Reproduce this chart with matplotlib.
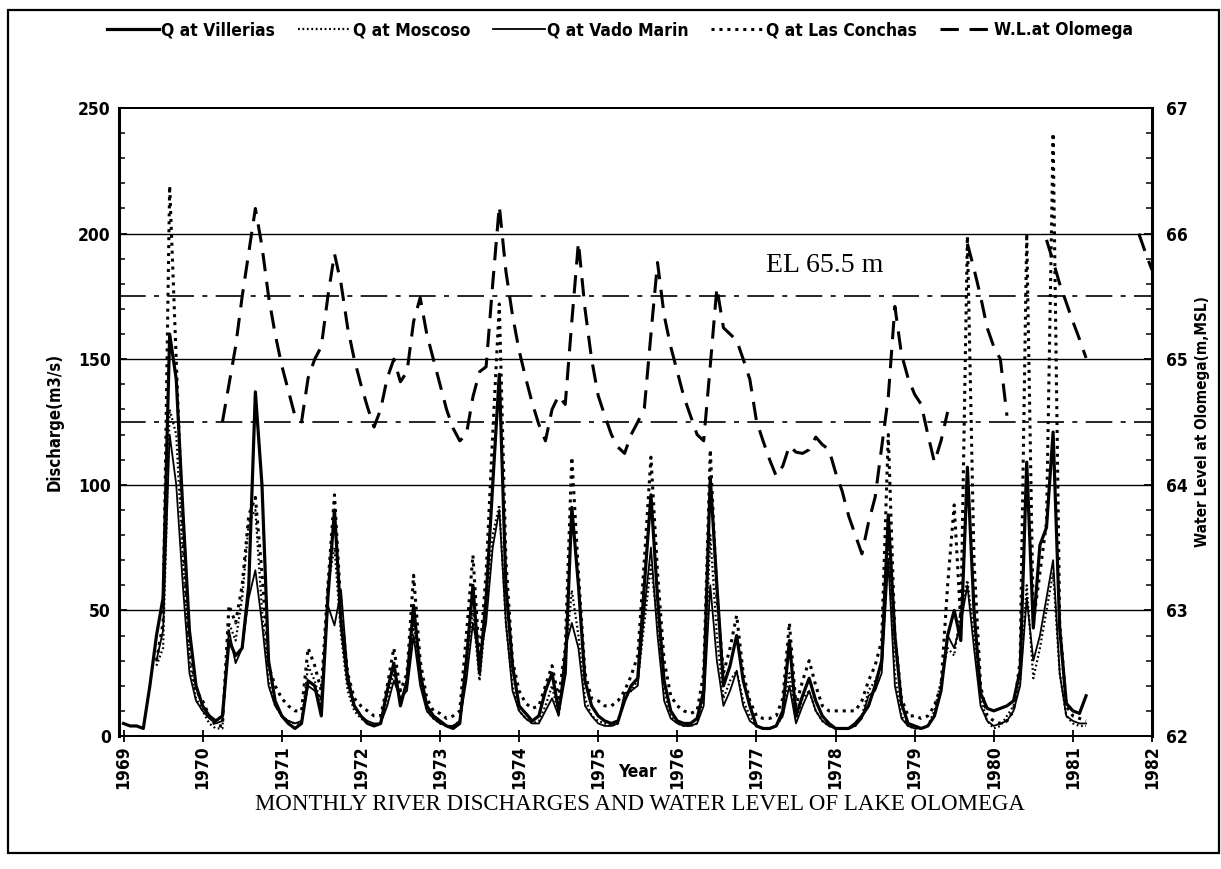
import numpy as np
import matplotlib
matplotlib.use("Agg")
import matplotlib.pyplot as plt
from matplotlib import font_manager as fm
from matplotlib.patches import Rectangle
from matplotlib.ticker import MultipleLocator

nan = np.nan

# ---------------- data (monthly, from Jan 1969) ----------------
start_year = 1969
villerias = [
    5, 4, 4, 3, 20, 40, 55, 160, 142, 90, 42, 20,          # 1969
    12, 8, 6, 8, 38, 32, 35, 60, 137, 100, 30, 14,         # 1970
    8, 5, 3, 5, 22, 20, 8, 55, 90, 45, 22, 12,             # 1971
    8, 5, 4, 5, 18, 29, 12, 22, 52, 25, 12, 8,             # 1972
    6, 4, 3, 5, 30, 60, 25, 55, 100, 144, 60, 28,          # 1973
    12, 9, 6, 8, 18, 25, 10, 25, 91, 60, 22, 12,           # 1974
    8, 6, 5, 6, 14, 20, 23, 60, 96, 55, 22, 10,            # 1975
    6, 5, 5, 7, 18, 103, 60, 20, 28, 40, 22, 12,           # 1976
    4, 3, 3, 4, 10, 38, 8, 16, 23, 14, 8, 5,               # 1977
    3, 3, 3, 5, 8, 12, 20, 30, 88, 40, 13, 5,              # 1978
    4, 3, 4, 8, 18, 40, 50, 38, 107, 50, 17, 11,           # 1979
    10, 11, 12, 14, 26, 109, 43, 76, 83, 121, 43, 13,      # 1980
    10, 9, 16,                                             # 1981
]
moscoso = [
    nan, nan, nan, nan, nan, 28, 35, 130, 120, 70, 30, 15,
    10, 5, 3, 3, 45, 38, 55, 85, 90, 50, 22, 12,
    8, 6, 5, 5, 28, 22, 12, 60, 75, 40, 18, 10,
    7, 5, 4, 5, 15, 25, 14, 20, 45, 22, 10, 7,
    5, 4, 4, 6, 25, 50, 22, 50, 80, 92, 45, 20,
    10, 7, 5, 6, 12, 20, 8, 30, 58, 40, 15, 8,
    6, 5, 4, 5, 15, 18, 22, 45, 68, 45, 18, 8,
    5, 4, 4, 5, 15, 80, 40, 15, 22, 26, 14, 8,
    4, 3, 3, 4, 8, 25, 6, 15, 18, 10, 6, 4,
    3, 3, 3, 4, 8, 18, 22, 28, 75, 25, 8, 4,
    3, 3, 4, 10, 22, 35, 32, 50, 62, 40, 15, 6,
    3, 4, 8, 12, 22, 60, 23, 35, 50, 65, 25, 8,
    5, 4, 4,
]
vado_marin = [
    nan, nan, nan, nan, nan, 30, 42, 120, 100, 60, 25, 14,
    10, 7, 5, 6, 42, 29, 35, 55, 66, 45, 20, 12,
    8, 6, 5, 6, 20, 18, 15, 52, 44, 58, 25, 12,
    8, 6, 5, 5, 12, 22, 15, 18, 40, 20, 10, 7,
    5, 4, 4, 6, 22, 45, 30, 45, 75, 90, 45, 18,
    10, 7, 5, 5, 10, 15, 8, 35, 45, 35, 12, 8,
    5, 4, 4, 5, 17, 18, 20, 50, 75, 40, 14, 7,
    5, 4, 4, 5, 12, 60, 30, 12, 18, 26, 12, 6,
    4, 3, 3, 4, 8, 20, 5, 12, 18, 10, 6, 4,
    3, 3, 3, 4, 7, 16, 18, 25, 70, 20, 7, 4,
    3, 3, 4, 8, 18, 40, 35, 45, 60, 35, 12, 6,
    4, 5, 6, 10, 20, 55, 30, 40, 55, 70, 25, 8,
    6, 5, 5,
]
las_conchas = [
    nan, nan, nan, nan, nan, 30, 45, 219, 150, 80, 35, 18,
    14, 8, 4, 4, 52, 45, 60, 88, 95, 65, 28, 20,
    15, 12, 10, 10, 35, 28, 18, 60, 96, 50, 25, 15,
    12, 10, 8, 8, 20, 35, 18, 25, 64, 30, 15, 10,
    9, 7, 8, 10, 40, 72, 30, 65, 120, 172, 70, 30,
    18, 13, 11, 12, 20, 28, 15, 35, 111, 65, 25, 15,
    14, 12, 12, 14, 18, 24, 32, 70, 111, 65, 30, 16,
    12, 10, 9, 10, 25, 114, 55, 25, 35, 48, 25, 14,
    8, 7, 7, 8, 15, 45, 12, 22, 30, 20, 12, 10,
    10, 10, 10, 10, 14, 22, 28, 38, 120, 40, 15, 8,
    8, 7, 8, 12, 20, 60, 92, 45, 199, 70, 20, 8,
    6, 5, 6, 10, 30, 200, 45, 65, 85, 240, 45, 12,
    8, 7, 6,
]
water_level = [
    nan, nan, nan, nan, nan, nan, nan, nan, nan, nan, nan, nan,                    # 1969
    nan, nan, nan, 64.50, 64.80, 65.10, 65.50, 65.85, 66.20, 65.90, 65.50, 65.20,   # 1970
    64.95, 64.75, 64.55, 64.50, 64.85, 65.00, 65.10, 65.50, 65.84, 65.60, 65.25, 65.00,
    64.80, 64.62, 64.46, 64.60, 64.85, 65.00, 64.82, 64.90, 65.30, 65.49, 65.20, 65.00,
    64.80, 64.60, 64.45, 64.35, 64.40, 64.70, 64.90, 64.94, 65.60, 66.22, 65.70, 65.35,
    65.07, 64.85, 64.65, 64.48, 64.35, 64.60, 64.71, 64.64, 65.30, 65.93, 65.40, 65.00,
    64.71, 64.55, 64.40, 64.30, 64.25, 64.40, 64.50, 64.61, 65.20, 65.77, 65.35, 65.10,
    64.90, 64.70, 64.55, 64.40, 64.35, 64.95, 65.57, 65.25, 65.20, 65.15, 65.00, 64.84,
    64.51, 64.35, 64.20, 64.07, 64.15, 64.31, 64.26, 64.25, 64.28, 64.38, 64.32, 64.28,
    64.10, 63.95, 63.75, 63.60, 63.45, 63.70, 63.90, 64.30, 64.70, 65.42, 65.04, 64.85,
    64.72, 64.64, 64.40, 64.18, 64.35, 64.58, nan, nan, 65.92, 65.72, 65.50, 65.25,
    65.10, 65.00, 64.55, nan, nan, nan, nan, nan, 65.95, 65.78, 65.60, 65.45,
    65.30, 65.16, 65.01, nan, nan, nan, nan, nan, nan, nan, 66.00, 65.85,
    65.71,                                                                          # 1982
]
years = list(range(1969, 1983))
discharge_grid = [50, 100, 150, 200]
reference_levels = [125, 175]          # 64.5 m and EL 65.5 m
labels = ["Q at Villerias", "Q at Moscoso", "Q at Vado Marin",
          "Q at Las Conchas", "W.L.at Olomega"]

# ---------------- fonts ----------------
names = {f.name for f in fm.fontManager.ttflist}
narrow_family = next((n for n in ["Liberation Sans Narrow", "DejaVu Sans"] if n in names), "DejaVu Sans")
narrow = dict(family=narrow_family, weight="bold", stretch="condensed")
serif = "Liberation Serif" if "Liberation Serif" in names else "DejaVu Serif"

def months(series):
    return start_year + np.arange(len(series)) / 12.0

# ---------------- figure ----------------
W, H = 1221, 869
fig = plt.figure(figsize=(W / 100, H / 100), dpi=100)
ax = fig.add_axes([119 / W, 133 / H, 1033 / W, 628 / H])
ax.set_xlim(1968.943, 1982)
ax.set_ylim(0, 250)

for y in discharge_grid:
    ax.axhline(y, color="black", lw=1.0, zorder=1)
for y in reference_levels:
    ax.axhline(y, color="black", lw=1.2, linestyle=(0, (16, 5, 3, 5)), zorder=1)

h1, = ax.plot(months(villerias), villerias, color="black", lw=2.3, zorder=4)
h2, = ax.plot(months(moscoso), moscoso, color="black", lw=1.6, linestyle=(0, (0.8, 1.2)), zorder=3)
h3, = ax.plot(months(vado_marin), vado_marin, color="black", lw=1.3, zorder=3)
h4, = ax.plot(months(las_conchas), las_conchas, color="black", lw=2.2, linestyle=(0, (1, 1.6)), zorder=3)

ax2 = ax.twinx()
ax2.set_ylim(62, 67)
h5, = ax2.plot(months(water_level), water_level, color="black", lw=2.2,
               linestyle=(0, (6, 3.5)), zorder=3)

# ticks
ax.set_xticks(years)
ax.set_xticklabels([str(y) for y in years], rotation=90, fontsize=12.5, **narrow)
ax.tick_params(axis="x", direction="inout", length=9, width=1.3, pad=2)
ax.set_yticks([0, 50, 100, 150, 200, 250])
ax.set_yticklabels(["0", "50", "100", "150", "200", "250"], fontsize=12.5, **narrow)
ax.yaxis.set_minor_locator(MultipleLocator(10))
ax.tick_params(axis="y", which="major", direction="in", length=6, width=1.3, pad=6)
ax.tick_params(axis="y", which="minor", direction="in", length=4, width=1.1)
ax2.set_yticks([62, 63, 64, 65, 66, 67])
ax2.set_yticklabels(["62", "63", "64", "65", "66", "67"], fontsize=12.5, **narrow)
ax2.yaxis.set_minor_locator(MultipleLocator(0.2))
ax2.tick_params(axis="y", which="major", direction="in", length=6, width=1.3, pad=10)
ax2.tick_params(axis="y", which="minor", direction="in", length=4, width=1.1)

for a in (ax, ax2):
    for s in a.spines.values():
        s.set_linewidth(1.4)
ax2.spines["right"].set_linewidth(2.2)
ax.spines["left"].set_linewidth(2.2)

ax.set_ylabel("Discharge(m3/s)", fontsize=12, labelpad=10, **narrow)
ax2.set_ylabel("Water Level at Olomega(m,MSL)", fontsize=11, labelpad=5, **narrow)

ax.text(1977.86, 187.5, "EL 65.5 m", ha="center", va="center",
        fontsize=20, family=serif, zorder=5)

fig.text(637 / W, 1 - 772 / H, "Year", ha="center", va="center", fontsize=12.5, **narrow)
fig.text(640 / W, 1 - 805 / H, "MONTHLY RIVER DISCHARGES AND WATER LEVEL OF LAKE OLOMEGA",
         ha="center", va="center", fontsize=16.5, family=serif)

leg = fig.legend([h1, h2, h3, h4, h5], labels, ncol=5, loc="center",
                 bbox_to_anchor=(620 / W, 1 - 30 / H), frameon=False,
                 handlelength=3.0, handletextpad=0.15, columnspacing=1.3,
                 prop=fm.FontProperties(family=narrow_family, weight="bold",
                                        stretch="condensed", size=12.5))

fig.add_artist(Rectangle((8 / W, 1 - 853 / H), (1219 - 8) / W, (853 - 10) / H,
                         transform=fig.transFigure, fill=False, lw=1.6, color="black"))

fig.savefig("out.png", dpi=100)
